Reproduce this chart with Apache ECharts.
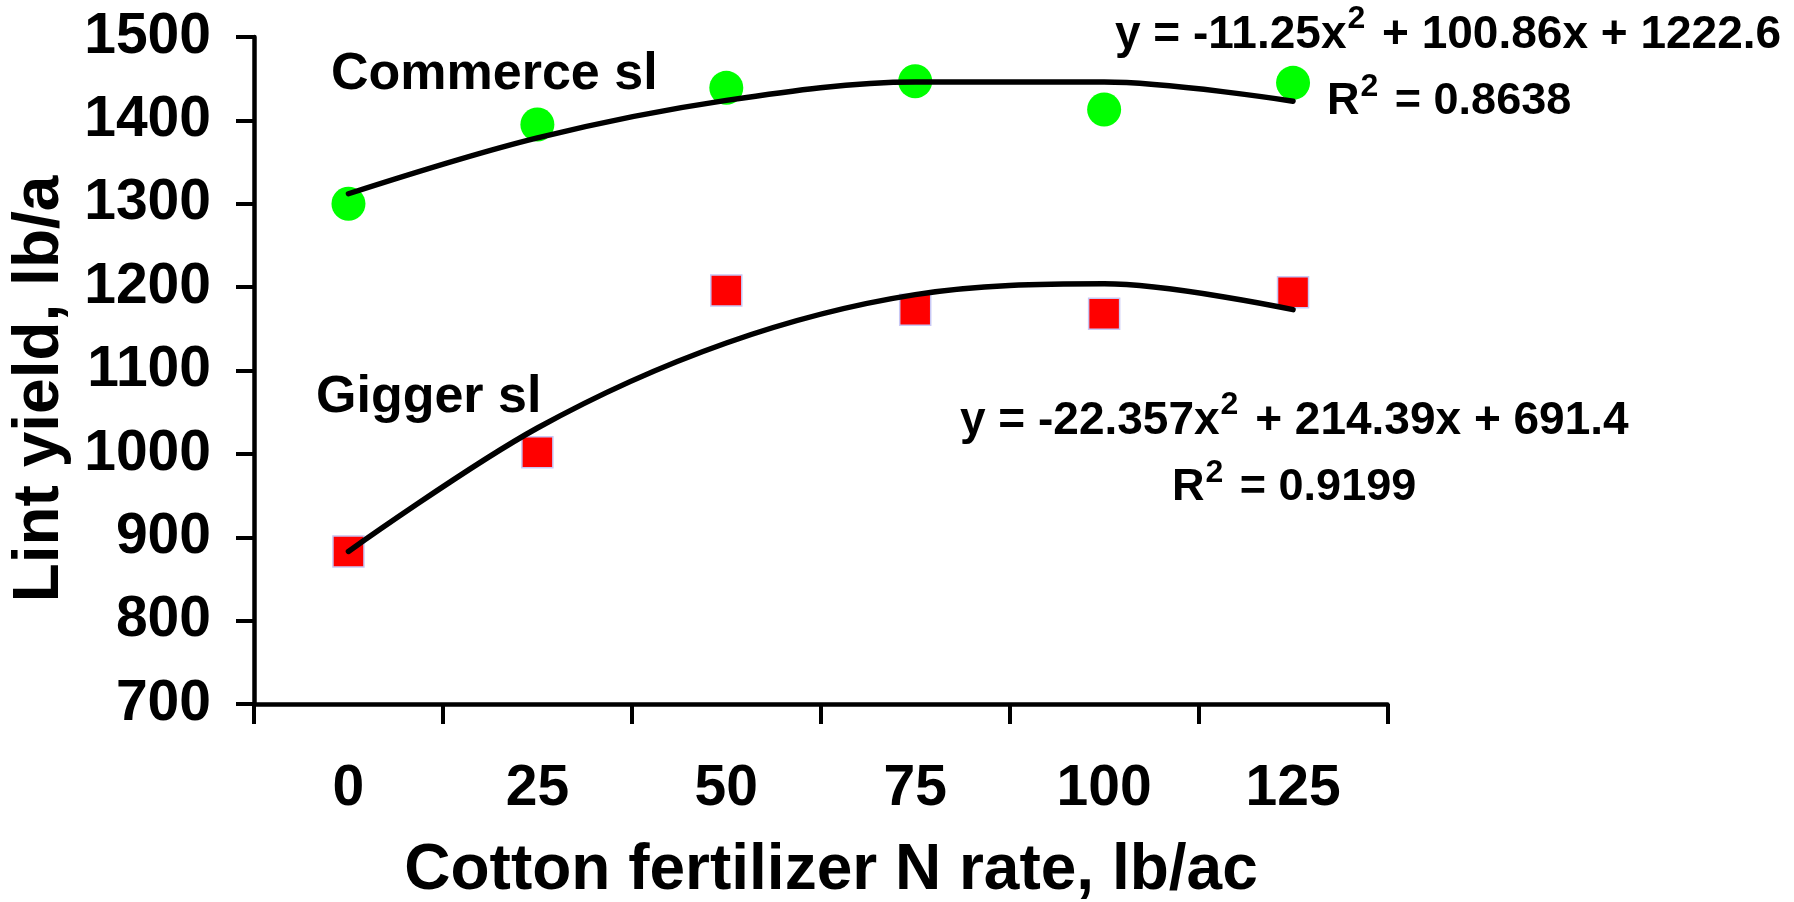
<!DOCTYPE html>
<html>
<head>
<meta charset="utf-8">
<script src="https://cdn.jsdelivr.net/npm/echarts@6/dist/echarts.min.js"></script>
<style>
  html, body { margin: 0; padding: 0; background: #fff; }
  #chart { width: 1794px; height: 902px; }
</style>
</head>
<body>
<div id="chart"></div>
<script>
// ---- data ----
const categories = ['0', '25', '50', '75', '100', '125'];
const commerceYield = [1300, 1395, 1439, 1447, 1413, 1445];
const giggerYield = [883, 1002, 1196, 1173, 1168, 1194];
const commerceTrend = [1312, 1379, 1424, 1446, 1446, 1423];
const giggerTrend = [883, 1031, 1133, 1191, 1204, 1173];
const yMin = 700, yMax = 1500, yStep = 100;
const seriesNames = ['Commerce sl', 'Gigger sl'];
const eqCommerce = ['y = -11.25x', '2', ' + 100.86x + 1222.6'];
const r2Commerce = ['R', '2', ' = 0.8638'];
const eqGigger = ['y = -22.357x', '2', ' + 214.39x + 691.4'];
const r2Gigger = ['R', '2', ' = 0.9199'];
const xTitle = 'Cotton fertilizer N rate, lb/ac';
const yTitle = 'Lint yield, lb/a';

const FONT = '"Liberation Sans", Arial, Helvetica, sans-serif';
const chart = echarts.init(document.getElementById('chart'));

function supText(parts, size, supSize) {
  return {
    text: '{a|' + parts[0] + '}{s|' + parts[1] + '}{a|' + parts[2] + '}',
    rich: {
      a: { fontSize: size, fontWeight: 'bold', fontFamily: FONT, fill: '#000', lineHeight: size + 17 },
      s: { fontSize: supSize, fontWeight: 'bold', fontFamily: FONT, fill: '#000', verticalAlign: 'top',
           lineHeight: supSize, padding: [0, 4, 0, 1] }
    }
  };
}

function label(text, x, y, size, align) {
  return {
    type: 'text', x: x, y: y, z: 100,
    style: { text: text, fontSize: size, fontWeight: 'bold', fontFamily: FONT, fill: '#000',
             align: align || 'left', verticalAlign: 'middle' }
  };
}

function richLabel(parts, x, y, size, supSize) {
  const s = supText(parts, size, supSize);
  return {
    type: 'text', x: x, y: y, z: 100,
    style: Object.assign(s, { align: 'left', verticalAlign: 'middle' })
  };
}

const option = {
  animation: false,
  backgroundColor: '#fff',
  grid: { left: 254, top: 37, right: 406.5, bottom: 198, containLabel: false },
  xAxis: {
    type: 'category',
    data: categories,
    boundaryGap: true,
    axisLine: { show: true, lineStyle: { color: '#000', width: 4.5, cap: 'round' } },
    axisTick: { show: true, inside: false, length: 20, lineStyle: { color: '#000', width: 4 } },
    axisLabel: { fontSize: 57, fontWeight: 'bold', fontFamily: FONT, color: '#000', margin: 57 },
    splitLine: { show: false }
  },
  yAxis: {
    type: 'value',
    min: yMin, max: yMax, interval: yStep,
    axisLine: { show: true, lineStyle: { color: '#000', width: 4.5, cap: 'round' } },
    axisTick: { show: true, inside: false, length: 18, lineStyle: { color: '#000', width: 4 } },
    axisLabel: { fontSize: 57, fontWeight: 'bold', fontFamily: FONT, color: '#000', margin: 43,
                 formatter: function (v) { return String(v); } },
    splitLine: { show: false }
  },
  series: [
    {
      name: seriesNames[0], type: 'scatter', data: commerceYield,
      symbol: 'circle', symbolSize: 34, z: 2,
      itemStyle: { color: '#00FF00', opacity: 1 }
    },
    {
      name: seriesNames[1], type: 'scatter', data: giggerYield,
      symbol: 'rect', symbolSize: 31, z: 2,
      itemStyle: { color: '#FF0000', borderColor: '#C8C8F5', borderWidth: 1.5, opacity: 1 }
    },
    {
      name: seriesNames[0] + ' trend', type: 'line', data: commerceTrend,
      showSymbol: false, symbol: 'none', smooth: 0.34, z: 5,
      lineStyle: { color: '#000', width: 5.5, cap: 'round' }
    },
    {
      name: seriesNames[1] + ' trend', type: 'line', data: giggerTrend,
      showSymbol: false, symbol: 'none', smooth: 0.34, z: 5,
      lineStyle: { color: '#000', width: 5.5, cap: 'round' }
    }
  ],
  graphic: [
    label(seriesNames[0], 331, 75, 52),
    label(seriesNames[1], 316, 398, 52),
    richLabel(eqCommerce, 1115, 35, 46, 32),
    richLabel(r2Commerce, 1327, 102, 45, 32),
    richLabel(eqGigger, 960, 421, 46, 32),
    richLabel(r2Gigger, 1172, 488, 45, 32),
    label(xTitle, 831, 871, 64, 'center'),
    {
      type: 'text', x: 40, y: 389, rotation: Math.PI / 2, z: 100,
      style: { text: yTitle, fontSize: 64, fontWeight: 'bold', fontFamily: FONT, fill: '#000',
               align: 'center', verticalAlign: 'middle' }
    }
  ]
};
chart.setOption(option);
</script>
</body>
</html>
